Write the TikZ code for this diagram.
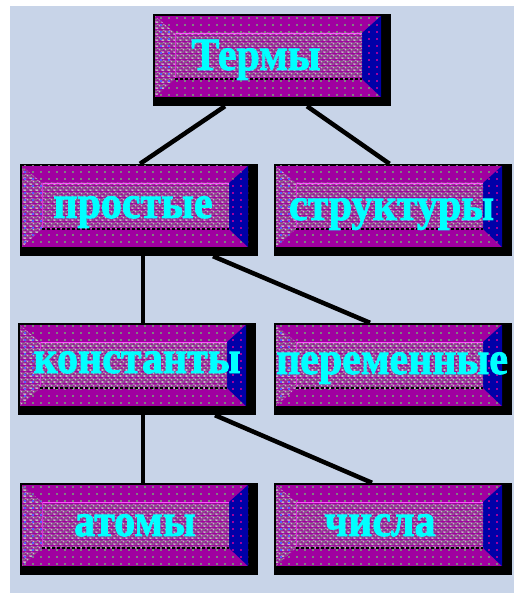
\documentclass[tikz,border=0pt]{standalone}
\usepackage{fontspec}
\setmainfont{Liberation Serif}
\usetikzlibrary{patterns.meta}
\definecolor{bgblue}{RGB}{200,212,232}
\definecolor{tpurple}{RGB}{160,0,160}
\definecolor{tnavy}{RGB}{0,0,168}
\definecolor{tsilver}{RGB}{192,192,192}
\definecolor{tgray}{RGB}{128,128,128}
\definecolor{tmagenta}{RGB}{255,80,255}
\definecolor{tcyan}{RGB}{0,255,255}
\definecolor{tblue}{RGB}{90,90,255}

\tikzdeclarepattern{
  name=sdots, type=uncolored,
  bounding box={(0pt,0pt) and (8pt,7pt)},
  tile size={(8pt,7pt)},
  code={\fill (0pt,0pt) rectangle (2pt,2pt);}
}
\tikzdeclarepattern{
  name=panelpat, type=colored,
  bounding box={(0pt,0pt) and (6pt,6pt)},
  tile size={(6pt,6pt)},
  code={
    \fill[tsilver] (0pt,0pt) rectangle (2pt,2pt);
    \fill[tgray] (2pt,0pt) rectangle (3pt,2pt);
    \fill[tgray] (4pt,0pt) rectangle (5pt,3pt);
    \fill[tsilver] (3pt,3pt) rectangle (5pt,5pt);
    \fill[tgray] (5pt,3pt) rectangle (6pt,5pt);
    \fill[tgray] (0pt,3pt) rectangle (1.5pt,5pt);
    \fill[tsilver] (1pt,5pt) rectangle (3pt,6pt);
  }
}

\tikzset{
  boxlbl/.style={minimum width=238pt, minimum height=92pt, inner sep=0pt,
    text=tcyan, font=\addfontfeature{FakeBold=1.8}\bfseries\fontsize{42}{42}\selectfont,
    text height=28pt, text depth=12pt},
  link/.style={draw=black, line width=4.5pt}
}

% name, x, y, text shift (2*dx), raise, text
\newcommand\tbox[6]{%
  \begin{scope}[shift={(#2,#3)}]
    \fill[black] (0,0) rectangle (238,92);
    \fill[tpurple] (2,2) rectangle (228,83);
    \fill[pattern=sdots, pattern color=tgray] (2,2) rectangle (228,83);
    \fill[tpurple] (2,2) -- (22,19) -- (22,65) -- (2,83) -- cycle;
    \fill[pattern=panelpat] (2,2) -- (22,19) -- (22,65) -- (2,83) -- cycle;
    \fill[pattern=sdots, pattern color=tblue] (2,2) -- (22,19) -- (22,65) -- (2,83) -- cycle;
    \fill[tnavy] (228,2) -- (209,19) -- (209,65) -- (228,83) -- cycle;
    \fill[pattern=sdots, pattern color=tpurple] (228,2) -- (209,19) -- (209,65) -- (228,83) -- cycle;
    \fill[tpurple] (22,19) rectangle (209,65);
    \fill[pattern=panelpat] (22,19) rectangle (209,65);
    \draw[tmagenta, line width=1.2pt] (22,19.5) -- (209,19.5);
    \draw[tmagenta!60!tpurple, line width=1pt] (22.5,19) -- (22.5,65);
    \draw[black, line width=1.2pt, dash pattern=on 3pt off 2pt] (22,65) -- (209,65);
    \node[boxlbl] (#1) at (119,46) {\makebox[0pt][c]{\hspace*{#4}\raisebox{#5}{\scalebox{1}[1.1]{#6}}}};
  \end{scope}
}

\begin{document}
\begin{tikzpicture}[x=1pt, y=-1pt]
  \useasboundingbox (0,0) rectangle (514,593);
  \fill[white] (0,0) rectangle (514,593);
  \fill[bgblue] (10,6) rectangle (514,593);

  \tbox{t}{153}{14}{-32pt}{-2pt}{Термы}
  \tbox{p}{20}{164}{-12pt}{0pt}{простые}
  \tbox{s}{274}{164}{-3pt}{-2pt}{структуры}
  \tbox{k}{18}{323}{0pt}{4pt}{константы}
  \tbox{v}{274}{323}{-2pt}{3pt}{переменные}
  \tbox{a}{20}{483}{-8pt}{1pt}{атомы}
  \tbox{c}{274}{483}{-26pt}{1pt}{числа}

  \draw[link] ([xshift=-47pt]t.south) -- ([xshift=1pt]p.north);
  \draw[link] ([xshift=35pt]t.south) -- ([xshift=-3.5pt]s.north);
  \draw[link] ([xshift=4pt]p.south) -- ([xshift=6pt]k.north);
  \draw[link] ([xshift=74pt]p.south) -- ([xshift=-23pt]v.north);
  \draw[link] ([xshift=6pt]k.south) -- ([xshift=4pt]a.north);
  \draw[link] ([xshift=78pt]k.south) -- ([xshift=-21pt]c.north);
\end{tikzpicture}
\end{document}
